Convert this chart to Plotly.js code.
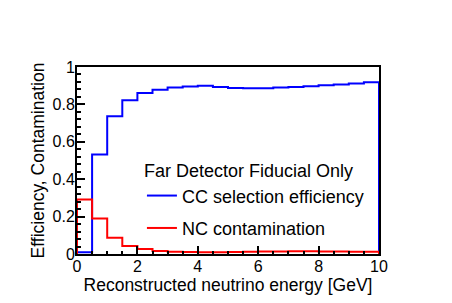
<!DOCTYPE html>
<html>
<head>
<meta charset="utf-8">
<script src="https://cdn.plot.ly/plotly-3.0.1.min.js"></script>
<style>html,body{margin:0;padding:0;background:#fff;}#chart{width:452px;height:303px;}</style>
</head>
<body>
<div id="chart"></div>
<script>
// Histogram bins: 0 to 10 GeV in 0.5 GeV steps
const binLow = 0;
const binWidth = 0.5;
const ccEfficiency = [0.01, 0.532, 0.737, 0.822, 0.861, 0.879, 0.89, 0.896, 0.9, 0.893,
                      0.888, 0.887, 0.887, 0.89, 0.893, 0.897, 0.902, 0.906, 0.912, 0.918];
const ncContamination = [0.292, 0.19, 0.087, 0.043, 0.027, 0.016, 0.012, 0.011, 0.01, 0.01,
                         0.011, 0.012, 0.013, 0.014, 0.015, 0.015, 0.014, 0.013, 0.012, 0.012];
const legendTitle = "Far Detector Fiducial Only";
const ccName = "CC selection efficiency";
const ncName = "NC contamination";
const xTitle = "Reconstructed neutrino energy [GeV]";
const yTitle = "Efficiency, Contamination";

function stepXY(vals) {
  const x = [], y = [];
  x.push(binLow); y.push(0);
  vals.forEach((v, i) => { x.push(binLow + i * binWidth); y.push(v); });
  x.push(binLow + vals.length * binWidth); y.push(vals[vals.length - 1]);
  x.push(binLow + vals.length * binWidth); y.push(0);
  return {x, y};
}
const cc = stepXY(ccEfficiency);
const nc = stepXY(ncContamination);

const fam = "Liberation Sans, Arial, Helvetica, sans-serif";
const titleFont = {family: fam, size: 17.5, color: "#000"};
const legendFont = {family: fam, size: 18, color: "#000"};
const tickFont = {family: fam, size: 16, color: "#000"};
const traces = [
  {x: cc.x, y: cc.y, name: ccName, type: "scatter", mode: "lines", line: {shape: "hv", color: "#0000ff", width: 2}, legendgroup: "a"},
  {x: nc.x, y: nc.y, name: ncName, type: "scatter", mode: "lines", line: {shape: "hv", color: "#ff0000", width: 2}, legendgroup: "b"}
];
const layout = {
  width: 452, height: 303,
  margin: {l: 77, r: 73, t: 67, b: 49, pad: 0},
  paper_bgcolor: "#fff", plot_bgcolor: "#fff",
  font: titleFont,
  showlegend: true,
  legend: {
    x: 0.215, y: 0.535, xanchor: "left", yanchor: "top",
    bgcolor: "rgba(0,0,0,0)", borderwidth: 0,
    title: {text: legendTitle, font: legendFont},
    traceorder: "grouped", tracegroupgap: 6,
    font: legendFont
  },
  xaxis: {
    range: [0, 10], dtick: 2, tick0: 0,
    ticks: "inside", ticklen: 8, tickwidth: 2, tickcolor: "#000",
    minor: {ticks: "inside", dtick: 0.5, ticklen: 3, tickwidth: 2, tickcolor: "#000"},
    showline: true, linewidth: 2, linecolor: "#000", mirror: true,
    showgrid: false, zeroline: false,
    tickfont: tickFont, ticklabelstandoff: -3,
    title: {text: xTitle, font: titleFont, standoff: 0}
  },
  yaxis: {
    range: [0, 1], dtick: 0.2, tick0: 0,
    ticks: "inside", ticklen: 8, tickwidth: 2, tickcolor: "#000",
    minor: {ticks: "inside", dtick: 0.04, ticklen: 4, tickwidth: 2, tickcolor: "#000"},
    showline: true, linewidth: 2, linecolor: "#000", mirror: true,
    showgrid: false, zeroline: false,
    tickfont: tickFont, ticklabelstandoff: -3,
    title: {text: yTitle, font: titleFont, standoff: 3}
  }
};
Plotly.newPlot("chart", traces, layout, {staticPlot: true, displayModeBar: false});
</script>
</body>
</html>
